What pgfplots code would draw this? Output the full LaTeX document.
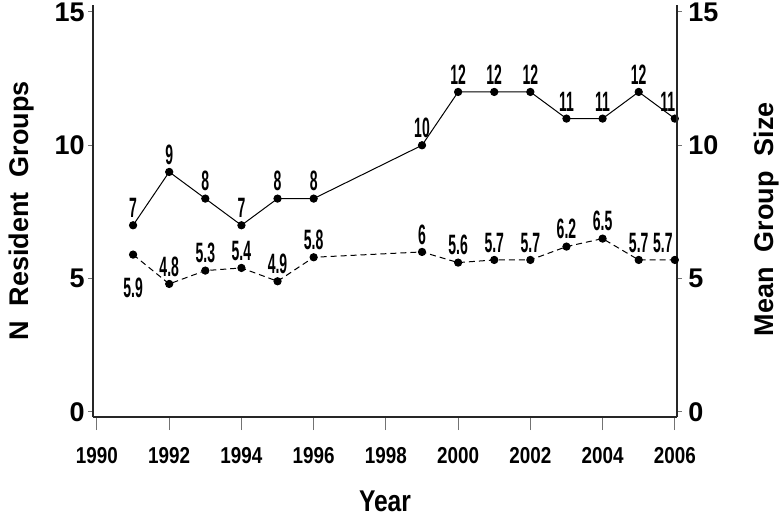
\documentclass[border=0pt]{standalone}
\usepackage{pgfplots}
\pgfplotsset{compat=1.18}
\usepackage{pgfplotstable}
\usepackage{fontspec}
\setmainfont{Liberation Sans}
\newfontfamily\tickfont[FakeStretch=0.82]{Liberation Sans}
\newfontfamily\lblfont[FakeStretch=0.5]{Liberation Sans}

% number of resident groups, with label offsets (pt)
\pgfplotstableread{
year n lbl dx dy
1991 7 7 0 3.5
1992 9 9 0 3.5
1993 8 8 0 3.5
1994 7 7 0 3.5
1995 8 8 0 3.5
1996 8 8 0 3.5
1999 10 10 0 3.5
2000 12 12 0 3.5
2001 12 12 0 3.5
2002 12 12 0 3.5
2003 11 11 0 3.5
2004 11 11 0 3.5
2005 12 12 0 3.5
2006 11 11 -3.5 3.5
}\groups

% mean group size
\pgfplotstableread{
year s lbl dx dy
1991 5.9 5.9 0 -22
1992 4.8 4.8 0 3.5
1993 5.3 5.3 0 3.5
1994 5.4 5.4 0 3.5
1995 4.9 4.9 0 3.5
1996 5.8 5.8 0 3.5
1999 6 6 0 3.5
2000 5.6 5.6 0 3.5
2001 5.7 5.7 0 3.5
2002 5.7 5.7 0 3.5
2003 6.2 6.2 0 3.5
2004 6.5 6.5 0 3.5
2005 5.7 5.7 0 3.5
2006 5.7 5.7 -6 3.5
}\sizes

\pgfplotsset{
  base/.style={
    scale only axis, width=292pt, height=206pt,
    xmin=1989.89, xmax=2006.06, ymin=-0.19, ymax=15.26,
    clip=false, tick align=outside,
    tick style={black!55, line width=0.5pt},
    axis line style={black!85, line width=0.6pt, -},
    xticklabel style={font={\tickfont\bfseries\fontsize{11.5}{12}\selectfont}},
    yticklabel style={font={\bfseries\fontsize{13.5}{14}\selectfont}},
    /pgf/number format/assume math mode=true,
    /pgf/number format/set thousands separator={},
    label style={font={\bfseries\fontsize{13.5}{14}\selectfont}},
  },
  series/.style={
    black, line width=0.5pt, mark=*, mark size=1.8pt,
    nodes near coords, point meta=explicit symbolic,
    visualization depends on={\thisrow{dx} \as \lbx},
    visualization depends on={\thisrow{dy} \as \lby},
    every node near coord/.append style={
      font={\lblfont\bfseries\fontsize{14}{14}\selectfont},
      anchor=south, inner sep=0pt, xshift=\lbx, yshift=\lby},
  },
}

\begin{document}
\begin{tikzpicture}
\useasboundingbox (-46.5pt,-49.5pt) rectangle (345.5pt,208.5pt);
% x axis
\begin{axis}[base,
  axis y line=none, axis x line*=bottom,
  xtick={1990,1992,...,2006}, major tick length=6.5pt,
  xticklabel style={inner sep=0pt, yshift=-8.5pt},
  xlabel={Year},
  xlabel style={at={(axis description cs:0.5,-0.205)}, anchor=center,
    inner sep=0pt, font={\tickfont\bfseries\fontsize{15}{15}\selectfont}},
]
\addplot[draw=none] coordinates {(1990,0)};
\end{axis}
% left axis: number of groups
\begin{axis}[base,
  axis x line=none, axis y line*=left,
  ytick={0,5,10,15}, major tick length=2.5pt,
  yticklabel style={inner sep=1.5pt},
  ylabel={N\ \ Resident\ \ Groups},
  ylabel style={at={(axis description cs:-0.122,0.5)}, anchor=center},
]
\addplot[series] table[x=year, y=n, meta=lbl] {\groups};
\end{axis}
% right axis: mean group size
\begin{axis}[base,
  axis x line=none, axis y line*=right,
  ytick={0,5,10,15}, major tick length=2.5pt,
  yticklabel style={inner sep=3pt},
  ylabel={Mean\ \ Group\ \ Size},
  ylabel style={at={(axis description cs:1.154,0.48)}, anchor=center},
]
\addplot[series, dashed, dash pattern=on 3pt off 2pt, mark options={solid}]
  table[x=year, y=s, meta=lbl] {\sizes};
\end{axis}
\end{tikzpicture}
\end{document}
